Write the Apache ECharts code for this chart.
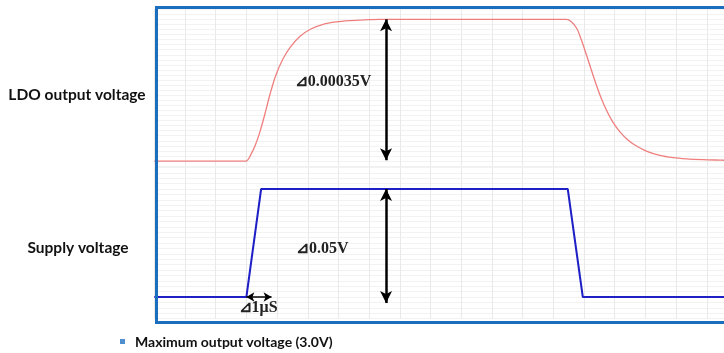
<!DOCTYPE html>
<html>
<head>
<meta charset="utf-8">
<script src="https://cdn.jsdelivr.net/npm/echarts@6/dist/echarts.min.js"></script>
<style>html,body{margin:0;padding:0;background:#fff;}#c{width:724px;height:353px;}</style>
</head>
<body>
<div id="c"></div>
<script>
// time in grid divisions (1 division ≈ major grid spacing)
const ldoTime = [0, 1.5, 2.9, 3.01, 3.12, 3.28, 3.44, 3.61, 3.77, 3.96, 4.19, 4.45, 4.75, 5.10, 5.50, 5.92, 6.37, 6.86, 7.35, 10.4,
  13.43, 13.57, 13.76, 13.90, 14.08, 14.22, 14.41, 14.55, 14.74, 14.94, 15.17, 15.43, 15.71, 16.05, 16.47, 16.90, 17.34, 17.87, 18.43, 18.56];
// LDO output voltage change (mV)
const ldoValue = [0, 0, 0, 0.0005, 0.0123, 0.037, 0.072, 0.118, 0.165, 0.212, 0.252, 0.283, 0.308, 0.326, 0.3375, 0.3435, 0.3468, 0.3488, 0.35, 0.35,
  0.35, 0.345, 0.328, 0.302, 0.262, 0.229, 0.186, 0.157, 0.124, 0.096, 0.072, 0.052, 0.037, 0.024, 0.014, 0.0085, 0.0055, 0.0035, 0.0022, 0.002];
const supplyTime = [0, 3.0, 3.48, 13.47, 13.96, 18.56];
// Supply voltage change (V)
const supplyValue = [0, 0, 0.05, 0.05, 0, 0];
const panelLabels = ['LDO output voltage', 'Supply voltage'];
const deltaLDO = '⊿0.00035V';
const deltaSupply = '⊿0.05V';
const deltaTime = '⊿1μS';
const footnote = 'Maximum output voltage (3.0V)';

const chart = echarts.init(document.getElementById('c'), null, {renderer: 'canvas'});
const xBase = {
  type: 'value', min: 0, max: 18.56, interval: 1,
  axisLine: {show: false}, axisTick: {show: false}, axisLabel: {show: false},
  splitLine: {show: true, lineStyle: {color: '#e9e9e9', width: 1}}
};
const yBase = {
  type: 'value',
  axisLine: {show: false}, axisTick: {show: false}, axisLabel: {show: false},
  splitLine: {show: true, lineStyle: {color: '#f2f2f2', width: 1}}
};
const arrowStyle = {color: '#000', width: 2.5, type: 'solid'};
const txt = {fontFamily: 'Liberation Serif', fontWeight: 'bold', fontSize: 16, color: '#222'};

chart.setOption({
  animation: false,
  grid: [
    {left: 154.3, right: 0, top: 9.2, height: 156.9},
    {left: 154.3, right: 0, top: 167.4, height: 151.2}
  ],
  xAxis: [Object.assign({gridIndex: 0}, xBase), Object.assign({gridIndex: 1}, xBase)],
  yAxis: [
    Object.assign({gridIndex: 0, min: -0.0125, max: 0.375, interval: 0.0125}, yBase),
    Object.assign({gridIndex: 1, min: -0.01, max: 0.06, interval: 0.0025}, yBase)
  ],
  series: [
    {
      type: 'line', xAxisIndex: 0, yAxisIndex: 0, smooth: 0.35, showSymbol: false,
      data: ldoTime.map((t, i) => [t, ldoValue[i]]),
      lineStyle: {color: '#ef7f7f', width: 1.3},
      markLine: {
        silent: true, symbol: ['arrow', 'arrow'], symbolSize: [9, 12],
        lineStyle: arrowStyle, label: {show: false},
        data: [[{coord: [7.55, 0.35]}, {coord: [7.55, 0.002]}]]
      },
      markPoint: {
        symbol: 'circle', symbolSize: 0,
        label: Object.assign({show: true, formatter: deltaLDO, position: 'inside'}, txt),
        data: [{coord: [5.82, 0.195]}]
      }
    },
    {
      type: 'line', xAxisIndex: 1, yAxisIndex: 1, showSymbol: false,
      data: supplyTime.map((t, i) => [t, supplyValue[i]]),
      lineStyle: {color: '#1f1fc6', width: 2},
      markLine: {
        silent: true, symbol: ['arrow', 'arrow'],
        label: {show: false},
        data: [
          [{coord: [7.55, 0.05], symbolSize: [9, 12], lineStyle: arrowStyle},
           {coord: [7.55, -0.0028], symbolSize: [9, 12]}],
          [{coord: [3.0, 0], symbolSize: [7, 8], lineStyle: {color: '#000', width: 1.5, type: 'solid'}},
           {coord: [3.82, 0], symbolSize: [7, 8]}]
        ]
      },
      markPoint: {
        symbol: 'circle', symbolSize: 0,
        data: [
          {coord: [5.47, 0.0223], label: Object.assign({show: true, formatter: deltaSupply, position: 'inside'}, txt)},
          {coord: [3.38, -0.0048], label: Object.assign({show: true, formatter: deltaTime, position: 'inside'}, txt)}
        ]
      }
    }
  ],
  graphic: [
    {type: 'rect', shape: {x: 156.5, y: 7.5, width: 700, height: 315}, style: {fill: 'none', stroke: '#1a6ebd', lineWidth: 3}, z: 100},
    {type: 'text', x: 77, y: 95, style: {text: panelLabels[0], fontFamily: 'Lato', fontWeight: 'bold', fontSize: 15.5, fill: '#111', align: 'center', verticalAlign: 'middle'}},
    {type: 'text', x: 78, y: 248, style: {text: panelLabels[1], fontFamily: 'Lato', fontWeight: 'bold', fontSize: 15.5, fill: '#111', align: 'center', verticalAlign: 'middle'}},
    {type: 'rect', shape: {x: 120, y: 339, width: 5, height: 5}, style: {fill: '#4f8fd0'}},
    {type: 'text', x: 135, y: 342, style: {text: footnote, fontFamily: 'Lato', fontWeight: 'bold', fontSize: 14, fill: '#111', align: 'left', verticalAlign: 'middle'}}
  ]
});
</script>
</body>
</html>
